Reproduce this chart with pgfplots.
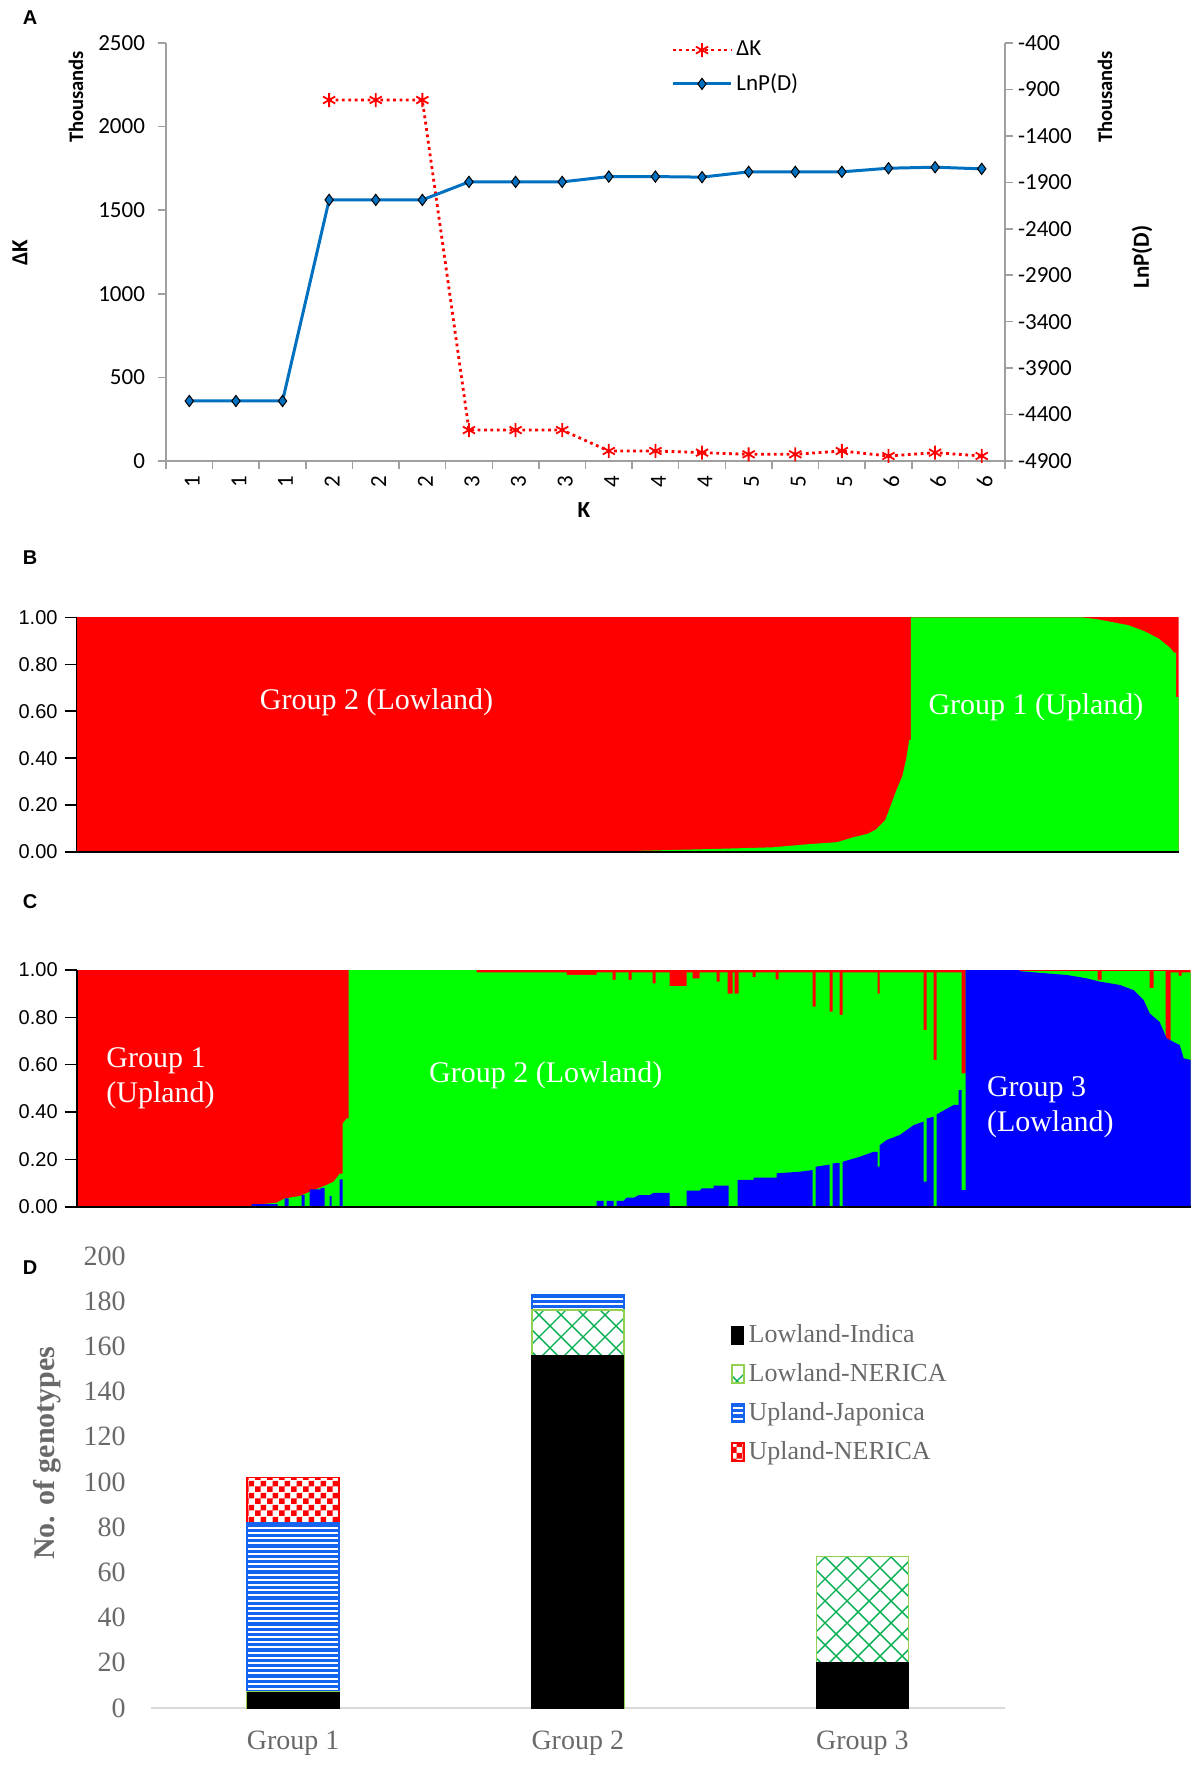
\documentclass[border=0pt]{standalone}
\usepackage{pgfplots}
\pgfplotsset{compat=1.18}
\usepackage{fontspec}
\setmainfont{Liberation Serif}
\newfontfamily\calib{Carlito}
\newfontfamily\arial{Liberation Sans}
\usetikzlibrary{patterns}

\definecolor{axgray}{RGB}{160,160,160}
\definecolor{lnblue}{RGB}{0,112,192}
\definecolor{txgray}{RGB}{105,105,105}
\definecolor{dgreenb}{RGB}{146,208,80}
\definecolor{dgreenp}{RGB}{0,176,80}
\definecolor{stripeblue}{RGB}{20,100,240}
\definecolor{lgray}{RGB}{217,217,217}
\definecolor{sred}{RGB}{255,0,0}
\definecolor{sgreen}{RGB}{0,255,0}
\definecolor{sblue}{RGB}{0,0,255}

\pgfdeclarepatternformonly{gcross}{\pgfqpoint{-1pt}{-1pt}}{\pgfqpoint{12pt}{12pt}}{\pgfqpoint{11pt}{11pt}}{%
  \pgfsetlinewidth{0.7pt}%
  \pgfpathmoveto{\pgfqpoint{0pt}{0pt}}\pgfpathlineto{\pgfqpoint{11pt}{11pt}}%
  \pgfpathmoveto{\pgfqpoint{0pt}{11pt}}\pgfpathlineto{\pgfqpoint{11pt}{0pt}}%
  \pgfusepath{stroke}}
\pgfdeclarepatternformonly{bstripes}{\pgfqpoint{-0.1pt}{0pt}}{\pgfqpoint{2.7pt}{2.6pt}}{\pgfqpoint{2.6pt}{2.6pt}}{%
  \pgfpathrectangle{\pgfqpoint{-0.1pt}{0pt}}{\pgfqpoint{2.8pt}{1.6pt}}\pgfusepath{fill}}
\pgfdeclarepatternformonly{rcheck}{\pgfqpoint{0pt}{0pt}}{\pgfqpoint{5.8pt}{5.8pt}}{\pgfqpoint{5.8pt}{5.8pt}}{%
  \pgfpathrectangle{\pgfqpoint{0pt}{0pt}}{\pgfqpoint{2.9pt}{2.9pt}}%
  \pgfpathrectangle{\pgfqpoint{2.9pt}{2.9pt}}{\pgfqpoint{2.9pt}{2.9pt}}%
  \pgfusepath{fill}}

\tikzset{
  dkstyle/.style={sred, line width=1.4pt, dash pattern=on 1.4pt off 1.8pt, mark=asterisk, mark size=3.5pt, mark options={solid, line width=0.9pt}},
  lnstyle/.style={lnblue, line width=1.5pt, mark=diamond*, mark size=2.8pt, mark options={fill=lnblue, draw=black, line width=0.5pt}},
}

\begin{document}
\begin{tikzpicture}
\path[use as bounding box] (0pt,0pt) rectangle (600pt,-883pt);

% ---------------- Panel A ----------------
\begin{axis}[
  at={(83pt,-230.5pt)}, anchor=south west,
  scale only axis, width=419.5pt, height=209pt,
  xmin=0.5, xmax=18.5, ymin=0, ymax=2500,
  axis x line*=bottom, axis y line*=left,
  axis line style={draw=axgray, line width=0.75pt},
  xtick={1,...,18},
  xticklabels={1,1,1,2,2,2,3,3,3,4,4,4,5,5,5,6,6,6},
  x tick style={draw=none},
  minor xtick={0.5,1.5,...,18.5},
  minor x tick style={draw=axgray, line width=0.75pt},
  minor tick length=4pt,
  ytick={0,500,...,2500},
  y tick style={draw=axgray, line width=0.75pt},
  major tick length=4pt,
  tick align=outside,
  tick label style={font=\calib\fontsize{11.5}{13.8}\selectfont},
  xticklabel style={rotate=90, anchor=east, yshift=-1.5pt},
  yticklabel style={xshift=-3pt},
  /pgf/number format/assume math mode=true,
  /pgf/number format/set thousands separator={},
  clip=false,
]
\addplot[dkstyle] coordinates {(4,2159)(5,2159)(6,2159)(7,185)(8,185)(9,185)(10,60)(11,60)(12,50)(13,40)(14,40)(15,60)(16,30)(17,50)(18,30)};
\node[font=\calib\bfseries\fontsize{11.5}{13.8}\selectfont, rotate=90] at ([xshift=-73pt]rel axis cs:0,0.4976) {ΔK};
\node[font=\calib\bfseries\fontsize{10.3}{12}\selectfont, rotate=90] at ([xshift=-45pt]rel axis cs:0,0.871) {Thousands};
\node[font=\calib\bfseries\fontsize{11.5}{13.8}\selectfont] at ([yshift=-24.5pt]rel axis cs:0.498,0) {K};
\end{axis}
\begin{axis}[
  at={(83pt,-230.5pt)}, anchor=south west,
  scale only axis, width=419.5pt, height=209pt,
  xmin=0.5, xmax=18.5, ymin=-4900, ymax=-400,
  axis x line=none, axis y line*=right,
  axis line style={draw=axgray, line width=0.75pt},
  ytick={-4900,-4400,...,-400},
  y tick style={draw=axgray, line width=0.75pt},
  major tick length=4pt,
  tick align=outside,
  tick label style={font=\calib\fontsize{11.5}{13.8}\selectfont},
  yticklabel style={xshift=-1pt},
  /pgf/number format/assume math mode=true,
  /pgf/number format/set thousands separator={},
  clip=false,
  legend style={at={(axis description cs:0.602,0.9414)}, anchor=west, draw=none, fill=none, inner sep=0pt,
    font=\calib\fontsize{11.5}{13.8}\selectfont, row sep=3.5pt},
  legend cell align=left,
  legend image code/.code={\draw[mark repeat=2,mark phase=2,#1] plot coordinates {(0pt,0pt)(14.5pt,0pt)(29pt,0pt)};},
]
\addlegendimage{dkstyle}
\addlegendentry{ΔK}
\addplot[lnstyle] coordinates {(1,-4254)(2,-4254)(3,-4254)(4,-2089)(5,-2089)(6,-2089)(7,-1895)(8,-1895)(9,-1895)(10,-1838)(11,-1838)(12,-1844)(13,-1787)(14,-1787)(15,-1787)(16,-1748)(17,-1737)(18,-1755)};
\addlegendentry{LnP(D)}
\node[font=\calib\bfseries\fontsize{10.3}{12}\selectfont, rotate=90] at ([xshift=50pt]rel axis cs:1,0.871) {Thousands};
\node[font=\calib\bfseries\fontsize{11.5}{13.8}\selectfont, rotate=90] at ([xshift=68.5pt]rel axis cs:1,0.488) {LnP(D)};
\end{axis}

% ---------------- Panel B ----------------
\begin{axis}[
  at={(38.3pt,-426pt)}, anchor=south west,
  scale only axis, width=551pt, height=117.3pt,
  xmin=0, xmax=1102, ymin=0, ymax=1,
  axis x line*=bottom, axis y line*=left,
  axis line style={black, line width=0.8pt},
  xtick=\empty, ytick={0,0.2,0.4,0.6,0.8,1},
  y tick style={black, line width=0.8pt},
  major tick length=6pt, tick align=outside,
  yticklabel style={font=\arial\fontsize{10}{12}\selectfont, /pgf/number format/.cd, fixed, fixed zerofill, precision=2},
  /pgf/number format/assume math mode=true,
  axis on top,
]
\addplot[fill=sred, draw=none] coordinates {(0,1)(1102,1)} \closedcycle;
\addplot[fill=sgreen, draw=none] coordinates {(0,0)(555,0)(561.7,0.005)(638,0.013)(695.6,0.02)(734,0.034)(760.7,0.042)(776,0.062)(791.3,0.078)(799,0.095)(808.5,0.135)(814.3,0.2)(820,0.266)(825.7,0.323)(829.6,0.396)(832.6,0.478)(834.2,0.478)(834.2,1)(1005.6,1)(1020.9,0.992)(1051.5,0.967)(1066.8,0.943)(1082.1,0.91)(1093.6,0.87)(1097.4,0.85)(1099.4,0.85)(1099.4,0.66)(1102,0.66)} \closedcycle;
\end{axis}

% ---------------- Panel C ----------------
\begin{axis}[
  at={(38.35pt,-603.35pt)}, anchor=south west,
  scale only axis, width=557pt, height=118.35pt,
  xmin=0, xmax=1114, ymin=0, ymax=1,
  axis x line*=bottom, axis y line*=left,
  axis line style={black, line width=0.8pt},
  xtick=\empty, ytick={0,0.2,0.4,0.6,0.8,1},
  y tick style={black, line width=0.8pt},
  major tick length=6pt, tick align=outside,
  yticklabel style={font=\arial\fontsize{10}{12}\selectfont, /pgf/number format/.cd, fixed, fixed zerofill, precision=2},
  /pgf/number format/assume math mode=true,
  axis on top,
]
\addplot[fill=sred, draw=none] coordinates {(0,1)(1114,1)} \closedcycle;
\addplot[fill=sgreen, draw=none] coordinates {(0,0)(175,0)(175,0.007)(200,0.017)(208,0.035)(223,0.045)(237,0.07)(250,0.092)(257,0.106)(263,0.14)(266,0.14)(266,0.352)(270,0.373)(272,0.373)(272,1)
(400,1)(400,0.99)(490,0.99)(490,0.979)(520,0.979)(520,0.99)(536,0.99)(536,0.958)(539,0.958)(539,0.99)(552,0.99)(552,0.958)(555,0.958)(555,0.99)(576,0.99)(576,0.944)(579,0.944)(579,0.99)(593,0.99)(593,0.932)(610,0.932)(610,0.99)(616,0.99)(616,0.965)(623,0.965)(623,0.99)(640,0.99)(640,0.951)(643,0.951)(643,0.99)(651,0.99)(651,0.9)(656,0.9)(656,0.99)(658,0.99)(658,0.9)(662,0.9)(662,0.99)(676,0.99)(676,0.97)(679,0.97)(679,0.99)(699,0.99)(699,0.96)(702,0.96)(702,0.99)
(736,0.99)(736,0.845)(739,0.845)(739,0.99)(753,0.99)(753,0.824)(756,0.824)(756,0.99)(763,0.99)(763,0.81)(766,0.81)(766,0.99)(801,0.99)(801,0.9)(803,0.9)(803,0.99)(847,0.99)(847,0.746)(850,0.746)(850,0.99)(857,0.99)(857,0.62)(860,0.62)(860,0.99)(885,0.99)(885,0.563)(889,0.563)(889,0.995)
(1021,0.995)(1021,0.958)(1025,0.958)(1025,0.995)(1073,0.995)(1073,0.923)(1077,0.923)(1077,0.995)(1089,0.995)(1089,0.704)(1094,0.704)(1094,0.99)(1102,0.99)(1102,0.975)(1105,0.975)(1105,0.99)(1114,0.99)} \closedcycle;
\addplot[fill=sblue, draw=none] coordinates {(0,0)(175,0)(175,0.011)(201,0.011)(201,0)(208,0)(208,0.035)(212,0.035)(212,0)(225,0)(225,0.049)(228,0.049)(228,0)(233,0)(233,0.073)(243,0.073)(245,0.08)(248,0.08)(248,0)(253,0)(253,0.045)(255,0.045)(255,0)(263,0)(263,0.115)(266,0.115)(266,0)
(520,0)(520,0.025)(527,0.025)(527,0)(530,0)(530,0.025)(537,0.025)(537,0)(540,0)(540,0.025)(547,0.025)(550,0.038)(557,0.038)(562,0.049)(573,0.049)(577,0.059)(593,0.059)(593,0)(610,0)(610,0.068)(623,0.068)(625,0.077)(637,0.077)(637,0.089)(652,0.089)(652,0)(661,0)(661,0.113)(677,0.113)(677,0.123)(700,0.123)(700,0.141)(723,0.148)(736,0.155)(736,0)(739,0)(739,0.169)(753,0.178)(753,0)(756,0)(756,0.183)(763,0.185)(763,0)(766,0)(766,0.19)(783,0.211)(797,0.232)(801,0.232)(801,0.169)(803,0.169)(803,0.26)(810,0.282)(823,0.303)(837,0.345)(847,0.36)(847,0.106)(850,0.106)(850,0.373)(857,0.38)(857,0)(860,0)(860,0.39)(863,0.397)(877,0.43)(882,0.43)(882,0.493)(885,0.493)(885,0.07)(889,0.07)(889,1)
(943,1)(943,0.995)(990,0.979)(1010,0.965)(1023,0.951)(1043,0.937)(1057,0.915)(1067,0.873)(1073,0.817)(1083,0.78)(1090,0.711)(1103,0.683)(1107,0.627)(1114,0.62)} \closedcycle;
\end{axis}

% ---------------- Panel D ----------------
% values are the tops of the stacked segments (cumulative), drawn from the top series down
\begin{axis}[
  at={(75.4pt,-854pt)}, anchor=south west,
  scale only axis, width=427pt, height=226pt,
  ybar, bar width=46pt, bar shift=0pt,
  xmin=-0.5, xmax=2.5, ymin=0, ymax=200,
  xtick={0,1,2}, xticklabels={Group 1,Group 2,Group 3},
  ytick={0,20,...,200},
  axis x line*=bottom, axis y line*=left,
  x axis line style={draw=lgray, line width=1pt, -},
  y axis line style={draw=none},
  major tick length=0pt,
  tick label style={font=\fontsize{14}{16}\selectfont, text=txgray},
  yticklabel style={xshift=-9pt},
  xticklabel style={yshift=-8pt},
  /pgf/number format/assume math mode=true,
  clip=false,
  reverse legend,
  legend style={at={(axis description cs:0.679,0.6955)}, anchor=west, draw=none, fill=none, inner sep=0pt,
    font=\fontsize{13}{15}\selectfont, text=txgray, row sep=5pt},
  legend cell align=left,
  legend image code/.code={\draw[#1] (0pt,-4.5pt) rectangle (6pt,4.5pt);},
]
\addplot[bar shift=0pt, fill=white, draw=sred, line width=0.8pt, postaction={pattern=rcheck, pattern color=sred}] coordinates {(0,102)(1,183)(2,67)};
\addlegendentry{Upland-NERICA}
\addplot[bar shift=0pt, fill=white, draw=stripeblue, line width=0.8pt, postaction={pattern=bstripes, pattern color=stripeblue}] coordinates {(0,82)(1,183)(2,67)};
\addlegendentry{Upland-Japonica}
\addplot[bar shift=0pt, fill=white, draw=dgreenb, line width=0.8pt, postaction={pattern=gcross, pattern color=dgreenp}] coordinates {(0,7)(1,176)(2,67)};
\addlegendentry{Lowland-NERICA}
\addplot[bar shift=0pt, fill=black, draw=black, line width=0.5pt] coordinates {(0,7)(1,156)(2,20)};
\addlegendentry{Lowland-Indica}
\node[font=\bfseries\fontsize{15}{18}\selectfont, text=txgray, rotate=90] at ([xshift=-51.6pt]rel axis cs:0,0.564) {No. of genotypes};
\end{axis}

% ---------------- texts ----------------
\node[font=\arial\bfseries\fontsize{10}{12}\selectfont] at (15pt,-9pt) {A};
\node[font=\arial\bfseries\fontsize{10}{12}\selectfont] at (15pt,-279pt) {B};
\node[font=\arial\bfseries\fontsize{10}{12}\selectfont] at (15pt,-451pt) {C};
\node[font=\arial\bfseries\fontsize{10}{12}\selectfont] at (15pt,-634pt) {D};
\node[white, font=\fontsize{15}{17.5}\selectfont] at (188.25pt,-351pt) {Group 2 (Lowland)};
\node[white, font=\fontsize{15}{17.5}\selectfont] at (518pt,-353.5pt) {Group 1 (Upland)};
\node[white, font=\fontsize{15}{17.5}\selectfont, align=left, anchor=west, inner sep=0pt] at (53pt,-539.25pt) {Group 1\\(Upland)};
\node[white, font=\fontsize{15}{17.5}\selectfont] at (272.9pt,-537.5pt) {Group 2 (Lowland)};
\node[white, font=\fontsize{15}{17.8}\selectfont, align=left, anchor=west, inner sep=0pt] at (493.3pt,-553.6pt) {Group 3\\(Lowland)};
\end{tikzpicture}
\end{document}
